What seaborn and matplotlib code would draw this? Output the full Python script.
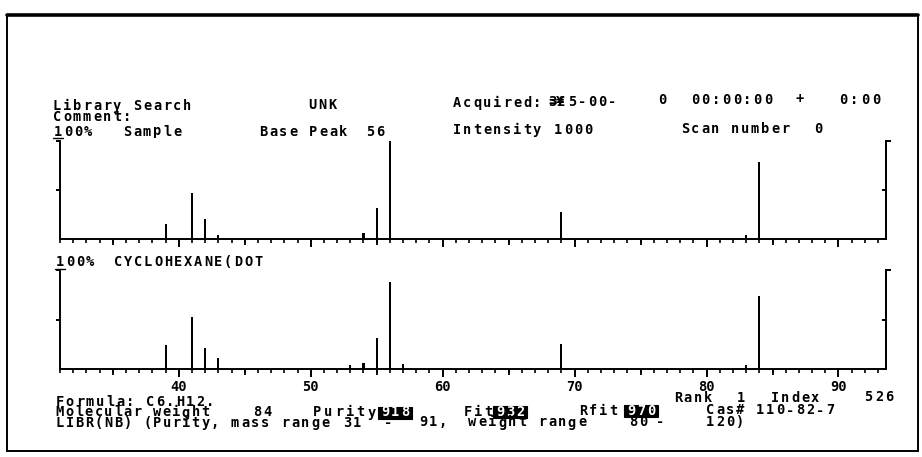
import matplotlib
matplotlib.use("Agg")
import matplotlib.pyplot as plt
import seaborn as sns
import pandas as pd
from matplotlib.patches import Rectangle
from matplotlib.lines import Line2D

# Sample spectrum (m/z, relative intensity %)
sample_mz = [39, 41, 42, 43, 54, 55, 56, 69, 83, 84]
sample_int = [15, 47, 20, 4, 6, 32, 100, 28, 4, 79]

# Library hit spectrum: cyclohexane
library_mz = [39, 41, 42, 43, 53, 54, 55, 56, 57, 69, 83, 84]
library_int = [24, 53, 21, 11, 4, 6, 31, 88, 5, 25, 4, 74]

mass_lo, mass_hi = 31, 93.6
major_ticks = [40, 50, 60, 70, 80, 90]
tick_labels = ["40", "50", "60", "70", "80", "90"]

W, H = 922, 457
FS = 9.8           # printer font size
PITCH = 10.0       # printer character cell width, pixels
MONO = "DejaVu Sans Mono"

sns.set_theme(style="white")
plt.rcParams["font.family"] = [MONO, "DejaVu Sans"]

fig = plt.figure(figsize=(W / 100, H / 100), dpi=100)
fig.patch.set_facecolor("white")


def px_axes(left, top, right, bottom):
    return fig.add_axes([left / W, 1 - bottom / H, (right - left) / W, (bottom - top) / H])


def txt(x, y, s, pitch=PITCH, color="black"):
    """Print a string on the fixed character grid starting at pixel x, baseline y."""
    for i, ch in enumerate(s):
        if ch == " ":
            continue
        fig.text((x + (i + 0.5) * pitch) / W, 1 - y / H, ch, ha="center", va="baseline",
                 fontsize=FS, fontweight="bold", family=MONO, color=color, zorder=5)


def inverse(x, y, s, pitch=PITCH):
    """Reverse-video field: black block with white characters."""
    w = len(s) * pitch + 4
    fig.add_artist(Rectangle(((x - 2) / W, 1 - (y + 2) / H), w / W, 12 / H,
                             transform=fig.transFigure, fc="black", ec="black", lw=0.8,
                             zorder=4))
    txt(x, y, s, pitch=pitch, color="white")


def px_line(x0, y0, x1, y1, lw=1.0):
    fig.add_artist(Line2D([x0 / W, x1 / W], [1 - y0 / H, 1 - y1 / H],
                          transform=fig.transFigure, color="black", lw=lw))


def draw_panel(ax, mz, inten, show_labels):
    df = pd.DataFrame({"mz": mz, "intensity": inten})
    sns.barplot(data=df, x="mz", y="intensity", native_scale=True, width=0.16,
                color="black", errorbar=None, ax=ax, linewidth=0, saturation=1)
    ax.set_xlim(mass_lo, mass_hi)
    ax.set_ylim(0, 100)
    ax.set_xlabel("")
    ax.set_ylabel("")
    ax.set_facecolor("none")
    for side in ["left", "bottom", "right"]:
        ax.spines[side].set_visible(True)
        ax.spines[side].set_color("black")
        ax.spines[side].set_linewidth(1.4)
    ax.spines["top"].set_visible(False)

    # x: long ticks every 10, short ticks every unit
    ax.set_xticks(major_ticks)
    ax.set_xticks(list(range(31, 94)), minor=True)
    if show_labels:
        ax.set_xticklabels(tick_labels)
    else:
        ax.set_xticklabels([])
    ax.tick_params(axis="x", which="major", direction="out", length=5.8, width=1.4,
                   bottom=True, labelsize=FS, labelcolor="black", color="black", pad=2.0)
    ax.tick_params(axis="x", which="minor", direction="out", length=2.6, width=1.2,
                   bottom=True, color="black")
    for lab in ax.get_xticklabels():
        lab.set_fontweight("bold")
        lab.set_family(MONO)

    # medium ticks at the fives
    mid = ax.secondary_xaxis("bottom")
    mid.set_xticks([35, 45, 55, 65, 75, 85])
    mid.set_xticklabels([])
    mid.tick_params(axis="x", direction="out", length=4.0, width=1.3, color="black")
    mid.spines["bottom"].set_visible(False)

    # y: left ticks at 50 and 100 pointing out
    ax.set_yticks([50, 100])
    ax.set_yticklabels([])
    ax.tick_params(axis="y", which="major", direction="out", length=3.0, width=1.4,
                   left=True, right=False, color="black")

    ax2 = ax.twinx()
    ax2.set_ylim(0, 100)
    ax2.set_yticks([100])
    ax2.set_yticks([50], minor=True)
    ax2.set_yticklabels([])
    ax2.tick_params(axis="y", which="major", direction="out", length=3.6, width=1.4,
                    color="black")
    ax2.tick_params(axis="y", which="minor", direction="in", length=3.0, width=1.4,
                    color="black")
    for side in ["left", "bottom", "top"]:
        ax2.spines[side].set_visible(False)
    ax2.spines["right"].set_linewidth(1.4)
    ax2.spines["right"].set_color("black")
    ax2.grid(False)
    ax.grid(False)


ax_top = px_axes(60, 141, 886, 239)
draw_panel(ax_top, sample_mz, sample_int, show_labels=False)

ax_bot = px_axes(60, 270, 886, 369)
draw_panel(ax_bot, library_mz, library_int, show_labels=True)

# page frame
fig.add_artist(Rectangle((7 / W, 1 - 451 / H), 911 / W, 436 / H, transform=fig.transFigure,
                         fill=False, ec="black", lw=1.4))
px_line(7, 15, 918, 15, lw=2.6)

# header of the sample panel
txt(52, 110, "Library Search")
txt(307, 109, "UNK")
txt(452, 107, "Acquired:")
txt(548, 106, "3£", pitch=8)
txt(548, 106, "=¥", pitch=8)
txt(567, 105.5, "5-00-")
txt(657, 104.5, "0")
txt(690, 104, "00:00:00", pitch=10.4)
txt(795, 103.5, "+")
txt(838, 103.5, "0:00", pitch=11)
txt(52, 121, "Comment:")
txt(53, 135.5, "100%")
px_line(53, 138, 63, 138)
txt(122, 135.5, "Sample")
txt(258, 135.5, "Base Peak")
txt(365, 135.5, "56")
txt(452, 134, "Intensity")
txt(553, 133.5, "1000")
txt(680, 133, "Scan number")
txt(813, 132.5, "0")

# header of the library panel
txt(55, 266, "100%")
px_line(55, 268.5, 65, 268.5)
txt(113, 266, "CYCLOHEXANE(DOT")

# hit information
txt(673, 402, "Rank")
txt(736, 402, "1")
txt(770, 402, "Index")
txt(863, 401, "526", pitch=10.6)
txt(55, 406, "Formula: C6.H12.")
txt(55, 416.5, "Molecular weight", pitch=9.7)
txt(252, 416.5, "84")
txt(312, 416.5, "Purity", pitch=10.8)
inverse(380, 416.5, "918")
txt(463, 415.5, "Fit")
inverse(495, 415.5, "932")
txt(578, 415, "Rfit")
inverse(626, 415, "970")
txt(705, 414.5, "Cas# 110-82-7")
txt(55, 427, "LIBR(NB) (Purity,", pitch=9.7)
txt(230, 427, "mass range")
txt(342, 427, "31")
txt(383, 427, "-")
txt(418, 426.5, "91,")
txt(467, 426.5, "weight range")
txt(628, 426, "80")
txt(655, 426, "-")
txt(705, 426, "120)")

fig.savefig("out.png", dpi=100, facecolor="white")
